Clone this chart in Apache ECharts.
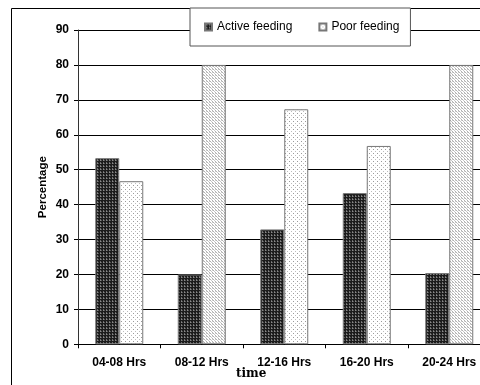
<!DOCTYPE html>
<html>
<head>
<meta charset="utf-8">
<script src="https://cdn.jsdelivr.net/npm/echarts@6/dist/echarts.min.js"></script>
<style>html,body{margin:0;padding:0;background:#fff;}#c{width:480px;height:385px;}</style>
</head>
<body>
<div id="c"></div>
<script>
var categories = ['04-08 Hrs', '08-12 Hrs', '12-16 Hrs', '16-20 Hrs', '20-24 Hrs'];
var activeFeeding = [53.3, 20.0, 32.9, 43.3, 20.4];
var poorFeeding = [46.7, 80.0, 67.3, 56.8, 80.0];
var yTicks = [0, 10, 20, 30, 40, 50, 60, 70, 80, 90];

function makePattern(w, h, bg, dots) {
  var c = document.createElement('canvas');
  c.width = w; c.height = h;
  var ctx = c.getContext('2d');
  ctx.fillStyle = bg; ctx.fillRect(0, 0, w, h);
  dots.forEach(function (d) { ctx.fillStyle = d[2]; ctx.fillRect(d[0], d[1], 1, 1); });
  return { image: c, repeat: 'repeat' };
}
var darkPat = makePattern(3, 3, '#1c1c1c', [[1, 0, '#6a6a6a'], [1, 1, '#8a8a8a'], [2, 1, '#555555']]);
var dotPat = makePattern(4, 4, '#ffffff', [[1, 1, '#9a9a9a'], [3, 3, '#bdbdbd']]);
var densePat = makePattern(3, 3, '#ffffff', [[0, 0, '#b0b0b0'], [1, 1, '#c8c8c8'], [2, 2, '#b0b0b0'], [2, 0, '#d0d0d0']]);

var poorData = poorFeeding.map(function (v, i) {
  if (i === 1 || i === 4) return { value: v, itemStyle: { color: densePat } };
  return v;
});

var chart = echarts.init(document.getElementById('c'), null, { renderer: 'canvas' });
chart.setOption({
  animation: false,
  backgroundColor: '#fff',
  title: {
    text: 'time', left: 236, top: 368, padding: 0,
    textStyle: { fontFamily: 'DejaVu Serif', fontWeight: 'bold', fontSize: 12, color: '#000' }
  },
  legend: {
    left: 190, top: 8,
    padding: [13, 11, 13, 14],
    itemWidth: 7, itemHeight: 7, itemGap: 26,
    icon: 'rect',
    borderColor: '#555', borderWidth: 1, backgroundColor: '#fff',
    textStyle: { fontFamily: 'Liberation Sans, Arial', fontSize: 12, color: '#000' },
    data: ['Active feeding', 'Poor feeding']
  },
  grid: { left: 78, top: 30, right: -10.5, bottom: 40.7, containLabel: false, outerBoundsMode: 'none' },
  xAxis: {
    type: 'category', data: categories,
    axisLine: { lineStyle: { color: '#000', width: 1 } },
    axisTick: { show: true, length: 4, lineStyle: { color: '#000' } },
    axisLabel: { margin: 12, fontFamily: 'Liberation Sans, Arial', fontWeight: 'bold', fontSize: 12, color: '#000' },
    splitLine: { show: false }
  },
  yAxis: {
    type: 'value', min: yTicks[0], max: yTicks[yTicks.length - 1], interval: 10,
    name: 'Percentage', nameLocation: 'middle', nameGap: 29, nameMoveOverlap: false,
    nameTextStyle: { fontFamily: 'Liberation Sans, Arial', fontWeight: 'bold', fontSize: 11.5, color: '#000' },
    axisLine: { show: true, lineStyle: { color: '#333', width: 1 } },
    axisTick: { show: true, length: 4, lineStyle: { color: '#000' } },
    axisLabel: { margin: 9, fontFamily: 'Liberation Sans, Arial', fontWeight: 'bold', fontSize: 12, color: '#000' },
    splitLine: { show: true, lineStyle: { color: '#000', width: 1 } }
  },
  series: [
    {
      name: 'Active feeding', type: 'bar', data: activeFeeding,
      barWidth: 24, barGap: '0%',
      itemStyle: { color: darkPat, borderColor: '#777', borderWidth: 1 }
    },
    {
      name: 'Poor feeding', type: 'bar', data: poorData,
      barWidth: 24, barGap: '0%',
      itemStyle: { color: dotPat, borderColor: '#777', borderWidth: 1 }
    }
  ],
  graphic: [{
    type: 'rect', z: -1, silent: true,
    shape: { x: 11.5, y: 8.5, width: 500, height: 400 },
    style: { fill: null, stroke: '#000', lineWidth: 1 }
  }]
});
</script>
</body>
</html>
